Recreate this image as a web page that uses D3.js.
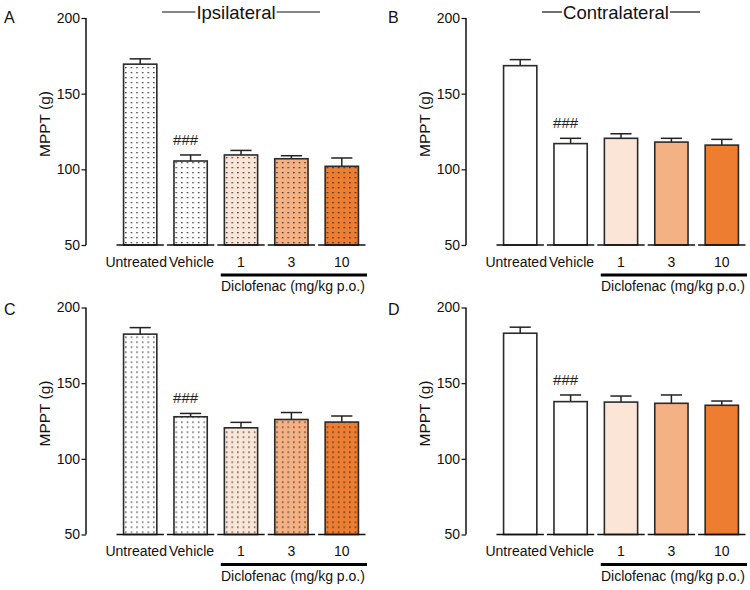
<!DOCTYPE html>
<html><head><meta charset="utf-8">
<script src="https://cdn.jsdelivr.net/npm/d3@7"></script>
<style>
html,body{margin:0;padding:0;background:#fff;}
svg{display:block;font-family:"Liberation Sans",Arial,sans-serif;}
</style></head>
<body>
<svg id="chart" width="750" height="590"></svg>
<script>
const categories = ["Untreated", "Vehicle", "1", "3", "10"];
const barColors = ["#ffffff", "#ffffff", "#fbe5d6", "#f4b183", "#ed7d31"];
const yTicks = [50, 100, 150, 200];
const panelLetters = ["A", "B", "C", "D"];
const panelTitles = ["Ipsilateral", "Contralateral", "", ""];
const dotted = [true, false, true, false];
const meansA = [169.5, 105.5, 109.5, 107, 102];
const semA   = [3.5, 4, 3, 2, 5.5];
const meansB = [168.5, 117, 120.5, 118, 116];
const semB   = [4, 3.5, 3, 2.5, 3.8];
const meansC = [182.4, 127.8, 120.5, 126, 124.3];
const semC   = [4.3, 2.2, 3.6, 4.6, 4];
const meansD = [183, 137.8, 137.5, 136.7, 135.4];
const semD   = [4, 4.4, 4, 5.5, 2.8];
const doseLabel = "Diclofenac (mg/kg p.o.)";
const yLabel = "MPPT (g)";
const sigMark = "###";

const panels = [
  {means: meansA, sem: semA, dx: 0, dy: 0, lx: 4, ly: 23},
  {means: meansB, sem: semB, dx: 380, dy: 0, lx: 8, ly: 23},
  {means: meansC, sem: semC, dx: 0, dy: 289.5, lx: 4, ly: 25.5},
  {means: meansD, sem: semD, dx: 380, dy: 289.5, lx: 8, ly: 25.5}
];
const labelShift = [-4, 1, 0, 0, 0];

const svg = d3.select("#chart");
const defs = svg.append("defs");
const pat = defs.append("pattern").attr("id", "dots")
  .attr("patternUnits", "userSpaceOnUse").attr("width", 5.6).attr("height", 5);
pat.append("rect").attr("x", 2).attr("y", 2).attr("width", 1.3).attr("height", 1.3).attr("fill", "#222");

const y = d3.scaleLinear().domain([50, 200]).range([245, 18]);
const x = d3.scaleBand().domain(categories).range([115, 367]).padding(0);
const bw = x.bandwidth();
const barW = bw * 0.66;
const capW = bw * 0.42;
const axisX = 86;

panels.forEach((p, i) => {
  const g = svg.append("g").attr("transform", `translate(${p.dx},${p.dy})`);

  g.append("text").attr("x", p.lx).attr("y", p.ly).attr("font-size", 16).attr("fill", "#111").text(panelLetters[i]);

  const ax = g.append("g").attr("transform", `translate(${axisX},0)`)
    .call(d3.axisLeft(y).tickValues(yTicks).tickSize(4.5).tickPadding(1.5).tickFormat(d3.format("d")));
  ax.select(".domain").attr("stroke", "#111").attr("stroke-width", 1.5).attr("d", `M0,${y(50)}V${y(200)}`);
  ax.selectAll(".tick line").attr("stroke", "#111").attr("stroke-width", 1.2);
  ax.selectAll(".tick text").attr("font-size", 14).attr("fill", "#111")
    .attr("font-family", '"Liberation Sans",Arial,sans-serif');

  g.append("text").attr("transform", `translate(50,124) rotate(-90)`)
    .attr("text-anchor", "middle").attr("font-size", 15.5).attr("fill", "#111").text(yLabel);

  categories.forEach((c, j) => {
    const cx = x(c) + bw / 2;
    const top = y(p.means[j]);
    const errTop = y(p.means[j] + p.sem[j]);
    g.append("line").attr("x1", cx).attr("x2", cx).attr("y1", top).attr("y2", errTop)
      .attr("stroke", "#222").attr("stroke-width", 1.5);
    g.append("line").attr("x1", cx - capW / 2).attr("x2", cx + capW / 2).attr("y1", errTop).attr("y2", errTop)
      .attr("stroke", "#222").attr("stroke-width", 1.5);
    g.append("rect").attr("x", cx - barW / 2).attr("y", top).attr("width", barW).attr("height", y(50) - top)
      .attr("fill", barColors[j]);
    if (dotted[i]) {
      g.append("rect").attr("x", cx - barW / 2).attr("y", top).attr("width", barW).attr("height", y(50) - top)
        .attr("fill", "url(#dots)");
    }
    g.append("rect").attr("x", cx - barW / 2).attr("y", top).attr("width", barW).attr("height", y(50) - top)
      .attr("fill", "none").attr("stroke", "#2a2a2a").attr("stroke-width", 1.6);
    g.append("line").attr("x1", x(c) + 1.5).attr("x2", x(c) + bw - 1.5).attr("y1", y(50)).attr("y2", y(50))
      .attr("stroke", "#111").attr("stroke-width", 1.5);
    g.append("text").attr("x", cx + labelShift[j]).attr("y", 266.5).attr("text-anchor", "middle")
      .attr("font-size", 14).attr("fill", "#111").text(c);
    if (j === 1) {
      g.append("text").attr("x", cx - 5).attr("y", errTop - 10).attr("text-anchor", "middle")
        .attr("font-size", 15).attr("fill", "#222").text(sigMark);
    }
  });

  const lx1 = x("1") + 5, lx2 = x("10") + bw;
  g.append("line").attr("x1", lx1).attr("x2", lx2).attr("y1", 275).attr("y2", 275)
    .attr("stroke", "#000").attr("stroke-width", 3.2);
  g.append("text").attr("x", (lx1 + lx2) / 2 - 1).attr("y", 291).attr("text-anchor", "middle")
    .attr("font-size", 14).attr("fill", "#111").text(doseLabel);

  if (panelTitles[i]) {
    const t = g.append("text").attr("x", 236).attr("y", 18.5).attr("text-anchor", "middle")
      .attr("font-size", 18.5).attr("fill", "#111").text(panelTitles[i]);
    const w = t.node().getComputedTextLength();
    g.append("line").attr("x1", 162).attr("x2", 236 - w / 2 - 1).attr("y1", 12).attr("y2", 12)
      .attr("stroke", "#111").attr("stroke-width", 1.2);
    g.append("line").attr("x1", 236 + w / 2 + 1).attr("x2", 320).attr("y1", 12).attr("y2", 12)
      .attr("stroke", "#111").attr("stroke-width", 1.2);
  }
});
</script>
</body></html>
